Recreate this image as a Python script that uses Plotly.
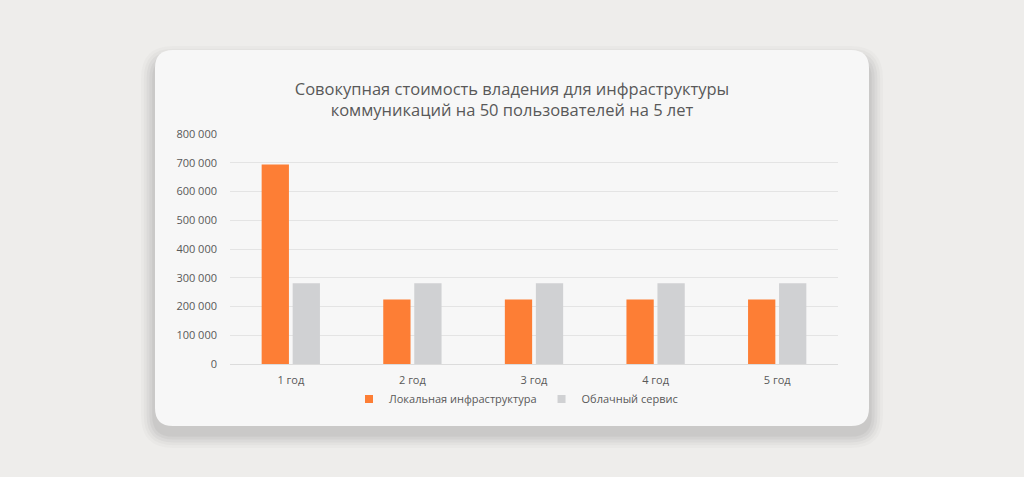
import plotly.graph_objects as go

years = ['1 год', '2 год', '3 год', '4 год', '5 год']
local_infra = [694000, 224000, 224000, 224000, 224000]
cloud_service = [281000, 281000, 281000, 281000, 281000]
y_ticks = [0, 100000, 200000, 300000, 400000, 500000, 600000, 700000, 800000]
y_tick_labels = ['0', '100 000', '200 000', '300 000', '400 000', '500 000', '600 000', '700 000', '800 000']

W, H = 1024, 477
L, R, T, B = 230, 838, 134, 364   # plot area in pixels
ORANGE, GRAY = '#fd7e35', '#d0d1d3'


def px(x):
    return (x - L) / (R - L)


def py(y):
    return (B - y) / (B - T)


def rounded_rect(x0, y0, x1, y1, r):
    # path in paper coords from pixel box
    return (f'M {px(x0 + r)},{py(y0)} L {px(x1 - r)},{py(y0)} '
            f'Q {px(x1)},{py(y0)} {px(x1)},{py(y0 + r)} '
            f'L {px(x1)},{py(y1 - r)} Q {px(x1)},{py(y1)} {px(x1 - r)},{py(y1)} '
            f'L {px(x0 + r)},{py(y1)} Q {px(x0)},{py(y1)} {px(x0)},{py(y1 - r)} '
            f'L {px(x0)},{py(y0 + r)} Q {px(x0)},{py(y0)} {px(x0 + r)},{py(y0)} Z')


fig = go.Figure()
fig.add_trace(go.Bar(x=years, y=local_infra, name='Локальная инфраструктура',
                     marker=dict(color=ORANGE, line_width=0), showlegend=False))
fig.add_trace(go.Bar(x=years, y=cloud_service, name='Облачный сервис',
                     marker=dict(color=GRAY, line_width=0), showlegend=False))
# legend entries with small square symbols
for name, col in [('Локальная инфраструктура', ORANGE), ('Облачный сервис', GRAY)]:
    fig.add_trace(go.Scatter(x=[None], y=[None], mode='markers', name=name,
                             marker=dict(symbol='square', size=8, color=col)))

shapes = []
# soft shadow under the card
for i, op in enumerate([0.02, 0.025, 0.03, 0.035, 0.04]):
    g = 14 - i * 2.8
    shapes.append(dict(type='path', xref='paper', yref='paper', layer='below',
                       path=rounded_rect(155 - g, 50 - g + 10, 869 + g, 426 + g + 8, 18 + g),
                       fillcolor=f'rgba(0,0,0,{op})', line_width=0))
shapes.append(dict(type='path', xref='paper', yref='paper', layer='below',
                   path=rounded_rect(155, 50, 869, 426, 18),
                   fillcolor='#f7f7f7', line_width=0))

fig.update_layout(
    width=W, height=H,
    margin=dict(l=L, r=W - R, t=T, b=H - B, pad=0),
    paper_bgcolor='#eeedeb',
    plot_bgcolor='rgba(0,0,0,0)',
    font=dict(family='Open Sans', color='#595959', size=11),
    title=dict(text='Совокупная стоимость владения для инфраструктуры<br>коммуникаций на 50 пользователей на 5 лет',
               x=512 / W, xanchor='center', y=1 - 95 / H, yanchor='middle',
               font=dict(size=16.5, color='#595959')),
    barmode='group', bargap=0.49, bargroupgap=0.12,
    shapes=shapes,
    showlegend=True,
    legend=dict(orientation='h', x=px(516), xanchor='center', y=py(399), yanchor='middle',
                font=dict(size=11, color='#595959'), bgcolor='rgba(0,0,0,0)',
                itemwidth=30, tracegroupgap=0),
    xaxis=dict(showgrid=False, showline=True, linecolor='#dcdcdc', linewidth=1,
               ticks='', tickfont=dict(size=11, color='#595959'), ticklabelstandoff=6),
    yaxis=dict(range=[0, 800000], tickvals=y_ticks, ticktext=y_tick_labels,
               showgrid=True, gridcolor='#e4e4e4', gridwidth=1, zeroline=False,
               showline=False, ticks='', ticklabelstandoff=12,
               tickfont=dict(size=11, color='#595959')),
)

fig.write_html('out.html', config={'displayModeBar': False},
               post_script="document.body.style.margin='0';")
